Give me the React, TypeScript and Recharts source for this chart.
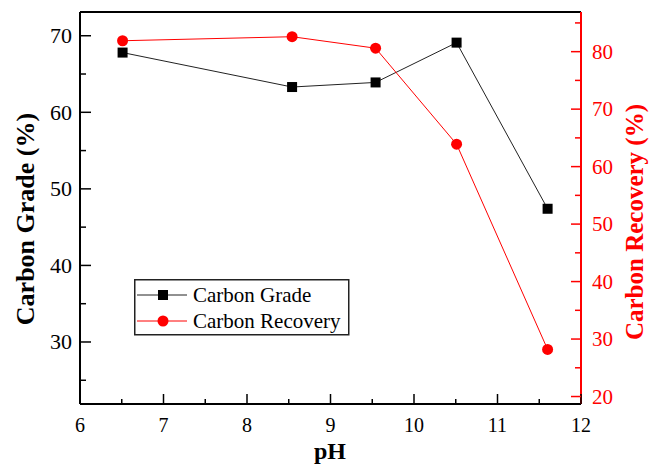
import { Legend, Line, LineChart, ReferenceLine, XAxis, YAxis } from "recharts";

const phValues = [6.51, 8.54, 9.54, 10.51, 11.6];
const carbonGrade = [67.8, 63.3, 63.9, 69.1, 47.4];
const carbonRecovery = [81.9, 82.6, 80.6, 63.9, 28.2];

const xTicks = [6, 6.5, 7, 7.5, 8, 8.5, 9, 9.5, 10, 10.5, 11, 11.5, 12];
const gradeTicks = [25, 30, 35, 40, 45, 50, 55, 60, 65, 70];
const recoveryTicks = [20, 25, 30, 35, 40, 45, 50, 55, 60, 65, 70, 75, 80, 85];

const data = phValues.map((ph, i) => ({
  ph,
  grade: carbonGrade[i],
  recovery: carbonRecovery[i],
}));

const FONT = "'Liberation Serif', 'Times New Roman', serif";
const RED = "#ff0000";
// plot box edges (px)
const LEFT = 80;
const RIGHT = 581;
const BOTTOM = 404;

const isMajor = (v: number) => Math.abs(v - Math.round(v / 10) * 10) < 1e-6;

function XTick(props: any) {
  const { x, payload } = props;
  const v = payload.value;
  const major = Number.isInteger(v);
  return (
    <g>
      <line x1={x} x2={x} y1={BOTTOM} y2={BOTTOM - (major ? 10 : 5)} stroke="#000" strokeWidth={1.5} />
      {major && (
        <text x={x} y={432} textAnchor="middle" fontSize={20} fontFamily={FONT} fill="#000">
          {v}
        </text>
      )}
    </g>
  );
}

function LeftTick(props: any) {
  const { y, payload } = props;
  const major = isMajor(payload.value);
  return (
    <g>
      <line x1={LEFT} x2={LEFT + (major ? 11 : 6)} y1={y} y2={y} stroke="#000" strokeWidth={1.5} />
      {major && (
        <text x={72} y={y} dy="0.34em" textAnchor="end" fontSize={22} fontFamily={FONT} fill="#000">
          {payload.value}
        </text>
      )}
    </g>
  );
}

function RightTick(props: any) {
  const { y, payload } = props;
  const major = isMajor(payload.value);
  return (
    <g>
      <line x1={RIGHT} x2={RIGHT - (major ? 10 : 6)} y1={y} y2={y} stroke={RED} strokeWidth={1.5} />
      {major && (
        <text x={592} y={y} dy="0.34em" textAnchor="start" fontSize={21} fontFamily={FONT} fill={RED}>
          {payload.value}
        </text>
      )}
    </g>
  );
}

function SquareDot(props: any) {
  const { cx, cy } = props;
  if (cx == null || cy == null) return null;
  return <rect x={cx - 5} y={cy - 5} width={10} height={10} fill="#000" />;
}

function CircleDot(props: any) {
  const { cx, cy } = props;
  if (cx == null || cy == null) return null;
  return <circle cx={cx} cy={cy} r={5.5} fill={RED} />;
}

function LegendBox() {
  return (
    <svg width={216} height={57}>
      <rect x={0.75} y={0.75} width={214} height={55} fill="#fff" stroke="#222" strokeWidth={1.5} />
      <line x1={3} x2={53} y1={16} y2={16} stroke="#222" strokeWidth={1} />
      <rect x={24} y={11} width={10} height={10} fill="#000" />
      <text x={59} y={23} fontSize={21} fontFamily={FONT} fill="#000">
        Carbon Grade
      </text>
      <line x1={3} x2={53} y1={42} y2={42} stroke={RED} strokeWidth={1} />
      <circle cx={29} cy={42} r={5.5} fill={RED} />
      <text x={59} y={49} fontSize={21} fontFamily={FONT} fill="#000">
        Carbon Recovery
      </text>
    </svg>
  );
}

export default function App() {
  return (
    <div style={{ position: "absolute", left: 0, top: 0, width: 649, height: 464, background: "#fff" }}>
      <LineChart width={649} height={464} data={data} margin={{ top: 12, right: 0, bottom: 0, left: 0 }}>
        <XAxis
          dataKey="ph"
          type="number"
          domain={[6, 12]}
          ticks={xTicks}
          interval={0}
          height={60}
          tickLine={false}
          tick={XTick}
          axisLine={{ stroke: "#000", strokeWidth: 2 }}
          label={{
            content: () => (
              <text x={330} y={459} textAnchor="middle" fontSize={24} fontWeight="bold" fontFamily={FONT} fill="#000">
                pH
              </text>
            ),
          }}
        />
        <YAxis
          yAxisId="left"
          domain={[21.9, 73.1]}
          ticks={gradeTicks}
          interval={0}
          width={80}
          allowDataOverflow
          tickLine={false}
          tick={LeftTick}
          axisLine={{ stroke: "#000", strokeWidth: 2 }}
          label={{
            content: () => (
              <text
                x={25}
                y={219}
                transform="rotate(-90 25 219)"
                dy="0.35em"
                textAnchor="middle"
                fontSize={26}
                fontWeight="bold"
                fontFamily={FONT}
                fill="#000"
              >
                Carbon Grade (%)
              </text>
            ),
          }}
        />
        <YAxis
          yAxisId="right"
          orientation="right"
          domain={[18.7, 86.9]}
          ticks={recoveryTicks}
          interval={0}
          width={68}
          allowDataOverflow
          tickLine={false}
          tick={RightTick}
          axisLine={{ stroke: RED, strokeWidth: 2 }}
          label={{
            content: () => (
              <text
                x={634}
                y={222}
                transform="rotate(-90 634 222)"
                dy="0.35em"
                textAnchor="middle"
                fontSize={25}
                fontWeight="bold"
                fontFamily={FONT}
                fill={RED}
              >
                Carbon Recovery (%)
              </text>
            ),
          }}
        />
        <ReferenceLine yAxisId="left" y={73.1} stroke="#000" strokeWidth={2} />
        <Line
          yAxisId="left"
          dataKey="grade"
          name="Carbon Grade"
          stroke="#222"
          strokeWidth={1}
          dot={SquareDot}
          activeDot={false}
          isAnimationActive={false}
        />
        <Line
          yAxisId="right"
          dataKey="recovery"
          name="Carbon Recovery"
          stroke={RED}
          strokeWidth={1}
          dot={CircleDot}
          activeDot={false}
          isAnimationActive={false}
        />
        <Legend
          layout="vertical"
          align="center"
          verticalAlign="middle"
          content={LegendBox}
          wrapperStyle={{ left: 134, top: 279, width: 216, height: 57 }}
        />
      </LineChart>
    </div>
  );
}
